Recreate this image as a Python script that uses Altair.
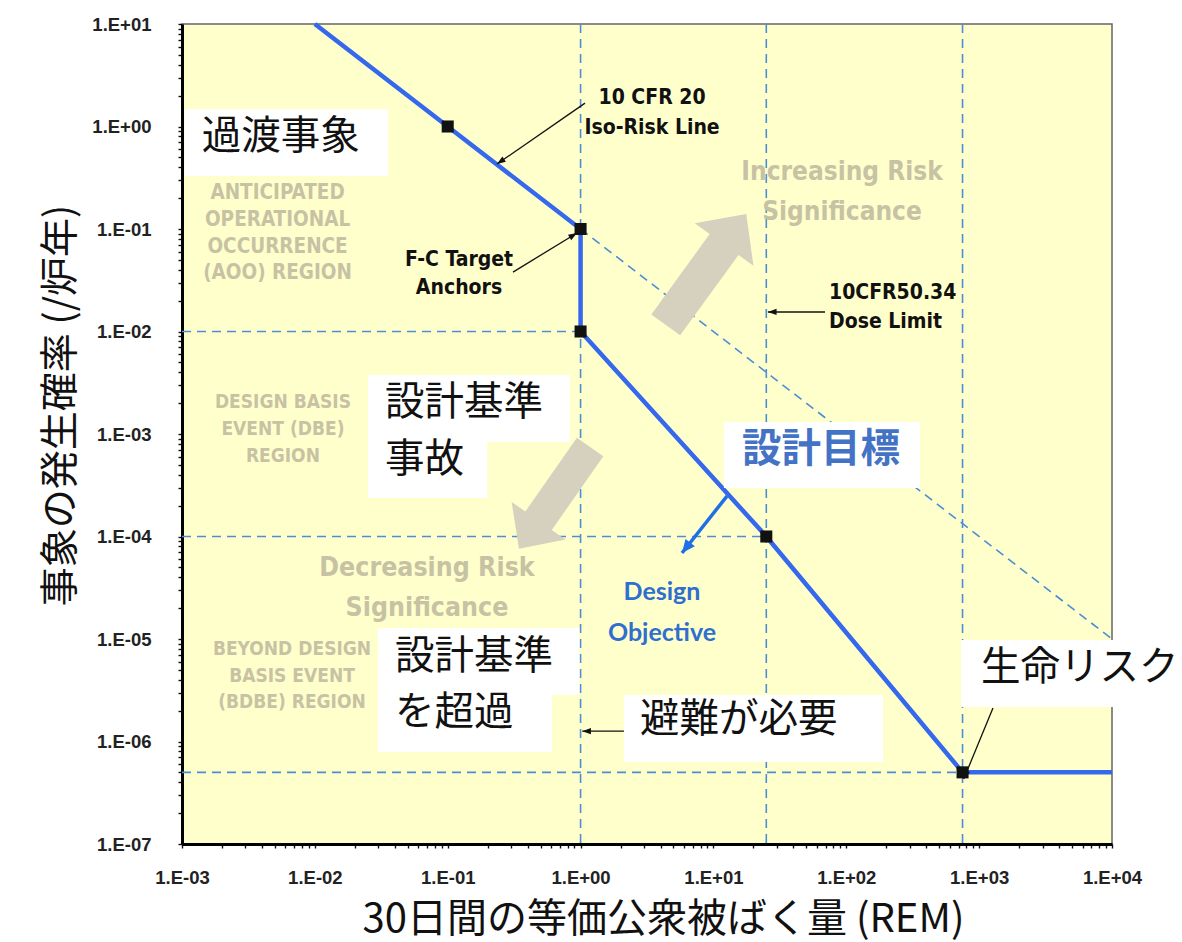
import json
import math

import altair as alt
import pandas as pd

# ---- axes -----------------------------------------------------------------
x_ticks = [1e-3, 1e-2, 1e-1, 1e0, 1e1, 1e2, 1e3, 1e4]
x_tick_labels = ["1.E-03", "1.E-02", "1.E-01", "1.E+00", "1.E+01", "1.E+02", "1.E+03", "1.E+04"]
y_ticks = [1e-7, 1e-6, 1e-5, 1e-4, 1e-3, 1e-2, 1e-1, 1e0, 1e1]
y_tick_labels = ["1.E-07", "1.E-06", "1.E-05", "1.E-04", "1.E-03", "1.E-02", "1.E-01", "1.E+00", "1.E+01"]

x_title = "30日間の等価公衆被ばく量 (REM)"
y_title = "事象の発生確率 (/炉年)"

# ---- frequency-consequence curve ---------------------------------------------
curve_dose = [0.01, 0.1, 1.0, 1.0, 25.0, 750.0, 1e4]
curve_freq = [10.0, 1.0, 0.1, 0.01, 1e-4, 5e-7, 5e-7]
anchor_dose = [0.1, 1.0, 1.0, 25.0, 750.0]
anchor_freq = [1.0, 0.1, 0.01, 1e-4, 5e-7]

# dashed guides
guide_v_dose = [1.0, 25.0, 750.0]
guide_h_freq = [0.01, 1e-4, 5e-7]
guide_h_end = [1.0, 25.0, 750.0]
iso_ext_dose = [1.0, 1e4]
iso_ext_freq = [0.1, 1e-5]

# ---- region captions (grey) ----------------------------------------------------
region_text = ["ANTICIPATED", "OPERATIONAL", "OCCURRENCE", "(AOO) REGION",
               "DESIGN BASIS", "EVENT (DBE)", "REGION",
               "BEYOND DESIGN", "BASIS EVENT", "(BDBE) REGION",
               "Decreasing Risk", "Significance",
               "Increasing Risk", "Significance"]
region_dose = [5.24e-3, 5.24e-3, 5.24e-3, 5.24e-3,
               5.75e-3, 5.75e-3, 5.75e-3,
               6.73e-3, 6.73e-3, 6.73e-3,
               0.0698, 0.0698,
               92.9, 92.9]
region_freq = [0.2245, 0.1225, 0.0667, 0.0372,
               2.05e-3, 1.12e-3, 6.1e-4,
               7.98e-6, 4.36e-6, 2.43e-6,
               4.93e-5, 2.0e-5,
               0.36, 0.1466]
region_size = [20.5, 20.5, 20.5, 20.5, 19, 19, 19, 19, 19, 19, 26.5, 26.5, 26, 26]

# big risk-direction arrows
risk_arrow_dose = [8.79, 0.637]
risk_arrow_freq = [0.0403, 2.38e-4]
risk_arrow_angle = [36, 215]
risk_arrow_size = [18769, 15376]

# ---- callouts ---------------------------------------------------------------------
note_c_text = ["10 CFR 20", "Iso-Risk Line", "F-C Target", "Anchors"]
note_c_dose = [3.45, 3.45, 0.1216, 0.1216]
note_c_freq = [1.90, 0.966, 0.0499, 0.0266]

note_l_text = ["10CFR50.34", "Dose Limit"]
note_l_dose = [74.1, 74.1]
note_l_freq = [0.0238, 0.0124]

obj_text = ["Design", "Objective"]
obj_dose = [4.1, 4.1]
obj_freq = [2.88e-5, 1.15e-5]

# white label boxes
box_dose = [1.05e-3, 0.0251, 0.0251, 0.0298, 0.0298, 12.0, 2.12, 730.0]
box_dose2 = [0.0356, 0.832, 0.198, 0.98, 0.61, 359.0, 189.0, 33600.0]
box_freq = [1.48, 3.77e-3, 8.36e-4, 1.28e-5, 2.84e-6, 1.31e-3, 2.84e-6, 9.77e-6]
box_freq2 = [0.329, 8.36e-4, 2.38e-4, 2.84e-6, 7.9e-7, 2.97e-4, 6.3e-7, 2.17e-6]

jp_text = ["過渡事象", "設計基準", "事故", "設計基準", "を超過", "避難が必要", "生命リスク"]
jp_dose = [1.41e-3, 0.0337, 0.0337, 0.0401, 0.0401, 2.80, 1032.0]
jp_freq = [0.79, 2.0e-3, 5.57e-4, 6.67e-6, 1.9e-6, 1.62e-6, 5.21e-6]

goal_text = ["設計目標"]
goal_dose = [16.4]
goal_freq = [6.98e-4]

# pointer lines: tail -> tip
ptr_dose = [1.08, 0.31, 69.2, 2.12, 1271.0]
ptr_freq = [1.69, 0.038, 0.0155, 1.26e-6, 2.12e-6]
ptr_dose2 = [0.235, 0.94, 25.7, 1.03, 765.0]
ptr_freq2 = [0.43, 0.0914, 0.0155, 1.26e-6, 4.3e-7]

goal_ptr_dose = [12.65]
goal_ptr_freq = [2.48e-4]
goal_ptr_dose2 = [5.8]
goal_ptr_freq2 = [6.9e-5]

# ---- layout / style -------------------------------------------------------------
W, H = 930, 820
PX_X = W / 7.0   # pixels per decade
PX_Y = H / 8.0

NARROW = "DejaVu Sans Condensed, Arial Narrow, sans-serif"
TICK_FONT = "Liberation Sans, Arial, sans-serif"
JP = "Noto Sans CJK JP"
YELLOW = "#FFFFCC"
CURVE_BLUE = "#3568EC"
GUIDE_BLUE = "#4C8ED6"
GREY = "#C8C2A4"

ARROW_PATH = "M0,-1 L0.53,-0.45 L0.26,-0.45 L0.26,1 L-0.26,1 L-0.26,-0.45 L-0.53,-0.45 Z"
HEAD_PATH = "M0,0 L0.36,1 L-0.36,1 Z"


def head_angle(x0, y0, x1, y1):
    dx = (math.log10(x1) - math.log10(x0)) * PX_X
    dy = -(math.log10(y1) - math.log10(y0)) * PX_Y
    return math.degrees(math.atan2(dx, -dy)) % 360


def minor(decades):
    return [m * d for d in decades[:-1] for m in range(1, 10)] + [decades[-1]]


def label_expr(labels, first_exp):
    e = "round(log(datum.value)/LN10)"
    return (f"abs(log(datum.value)/LN10 - {e}) < 0.001 ? "
            f"{json.dumps(labels)}[{e} + {-first_exp}] : ''")


xscale = alt.Scale(type="log", domain=[1e-3, 1e4], nice=False)
yscale = alt.Scale(type="log", domain=[1e-7, 1e1], nice=False)

axis_common = dict(
    domainColor="#000", domainWidth=3, tickColor="#111", tickWidth=1.4, tickSize=4,
    labelFont=TICK_FONT, labelFontWeight="bold", labelFontSize=18.5, labelColor="#222",
    labelOverlap=False, labelFlush=False, grid=False,
    titleFont=JP, titleFontWeight="normal", titleColor="#111",
)
xaxis = alt.Axis(values=minor(x_ticks), labelExpr=label_expr(x_tick_labels, -3),
                 labelPadding=20, title=x_title, titleX=481, titleY=75, titleFontSize=40,
                 titleBaseline="middle", titleAlign="center", **axis_common)
yaxis = alt.Axis(values=minor(y_ticks), labelExpr=label_expr(y_tick_labels, -7),
                 labelPadding=27, title=y_title, titleX=-122, titleY=381, titleAngle=270,
                 titleFontSize=39, titleBaseline="middle", titleAlign="center", **axis_common)


def X(field="dose"):
    return alt.X(f"{field}:Q", scale=xscale, axis=xaxis)


def Y(field="freq"):
    return alt.Y(f"{field}:Q", scale=yscale, axis=yaxis)


# ---- data frames ----------------------------------------------------------------
curve = pd.DataFrame({"dose": curve_dose, "freq": curve_freq, "idx": range(len(curve_dose))})
anchors = pd.DataFrame({"dose": anchor_dose, "freq": anchor_freq})
guide_v = pd.DataFrame({"dose": guide_v_dose})
guide_h = pd.DataFrame({"dose": [1e-3] * 3, "dose2": guide_h_end, "freq": guide_h_freq})
iso_ext = pd.DataFrame({"dose": iso_ext_dose, "freq": iso_ext_freq})
regions = pd.DataFrame({"dose": region_dose, "freq": region_freq, "t": region_text, "fs": region_size})
risk_arrows = pd.DataFrame({"dose": risk_arrow_dose, "freq": risk_arrow_freq,
                            "angle": risk_arrow_angle, "size": risk_arrow_size})
notes_c = pd.DataFrame({"dose": note_c_dose, "freq": note_c_freq, "t": note_c_text})
notes_l = pd.DataFrame({"dose": note_l_dose, "freq": note_l_freq, "t": note_l_text})
obj = pd.DataFrame({"dose": obj_dose, "freq": obj_freq, "t": obj_text})
boxes = pd.DataFrame({"dose": box_dose, "dose2": box_dose2, "freq": box_freq, "freq2": box_freq2})
jp = pd.DataFrame({"dose": jp_dose, "freq": jp_freq, "t": jp_text})
goal = pd.DataFrame({"dose": goal_dose, "freq": goal_freq, "t": goal_text})
ptr = pd.DataFrame({"dose": ptr_dose, "freq": ptr_freq, "dose2": ptr_dose2, "freq2": ptr_freq2})
ptr_head = pd.DataFrame({
    "dose": ptr_dose2, "freq": ptr_freq2,
    "angle": [head_angle(a, b, c, d) for a, b, c, d in zip(ptr_dose, ptr_freq, ptr_dose2, ptr_freq2)],
})
goal_ptr = pd.DataFrame({"dose": goal_ptr_dose, "freq": goal_ptr_freq,
                         "dose2": goal_ptr_dose2, "freq2": goal_ptr_freq2})
goal_head = pd.DataFrame({
    "dose": goal_ptr_dose2, "freq": goal_ptr_freq2,
    "angle": [head_angle(a, b, c, d) for a, b, c, d in
              zip(goal_ptr_dose, goal_ptr_freq, goal_ptr_dose2, goal_ptr_freq2)],
})

# ---- layers ---------------------------------------------------------------------
dash = dict(color=GUIDE_BLUE, strokeWidth=1.6, strokeDash=[9, 6])

v_lines = alt.Chart(guide_v).mark_rule(**dash).encode(x=X())
h_lines = alt.Chart(guide_h).mark_rule(**dash).encode(x=X(), x2="dose2:Q", y=Y())
iso_line = alt.Chart(iso_ext).mark_line(**dash).encode(x=X(), y=Y())

big_arrows = alt.Chart(risk_arrows).mark_point(
    shape=ARROW_PATH, filled=True, color="#D6D1BE", opacity=1, strokeWidth=0
).encode(x=X(), y=Y(), angle=alt.Angle("angle:Q", scale=None), size=alt.Size("size:Q", scale=None))

region_labels = alt.Chart(regions).mark_text(
    font=NARROW, fontWeight="bold", color=GREY, align="center", baseline="middle"
).encode(x=X(), y=Y(), text="t:N", size=alt.Size("fs:Q", scale=None))

curve_line = alt.Chart(curve).mark_line(color=CURVE_BLUE, strokeWidth=4.5).encode(
    x=X(), y=Y(), order="idx:Q")
anchor_pts = alt.Chart(anchors).mark_point(
    shape="square", filled=True, size=145, color="#111", opacity=1).encode(x=X(), y=Y())

white_boxes = alt.Chart(boxes).mark_rect(color="white").encode(
    x=X(), x2="dose2:Q", y=Y(), y2="freq2:Q")

jp_labels = alt.Chart(jp).mark_text(
    font=JP, fontSize=39.5, color="#111", align="left", baseline="middle").encode(x=X(), y=Y(), text="t:N")
goal_label = alt.Chart(goal).mark_text(
    font=JP, fontSize=39.5, fontWeight="bold", color="#4472C4", align="left", baseline="middle"
).encode(x=X(), y=Y(), text="t:N")

notes_center = alt.Chart(notes_c).mark_text(
    font=NARROW, fontSize=21, fontWeight="bold", color="#111", align="center", baseline="middle"
).encode(x=X(), y=Y(), text="t:N")
notes_left = alt.Chart(notes_l).mark_text(
    font=NARROW, fontSize=21, fontWeight="bold", color="#111", align="left", baseline="middle"
).encode(x=X(), y=Y(), text="t:N")
obj_labels = alt.Chart(obj).mark_text(
    font="Lato", fontSize=25, fontWeight="bold", color="#2E6FD0", align="center", baseline="middle"
).encode(x=X(), y=Y(), text="t:N")

ptr_lines = alt.Chart(ptr).mark_rule(color="#111", strokeWidth=1.3).encode(
    x=X(), y=Y(), x2="dose2:Q", y2="freq2:Q")
ptr_heads = alt.Chart(ptr_head).mark_point(
    shape=HEAD_PATH, filled=True, size=300, color="#111", opacity=1, strokeWidth=0
).encode(x=X(), y=Y(), angle=alt.Angle("angle:Q", scale=None))

goal_line = alt.Chart(goal_ptr).mark_rule(color="#1F6FE6", strokeWidth=3.5).encode(
    x=X(), y=Y(), x2="dose2:Q", y2="freq2:Q")
goal_heads = alt.Chart(goal_head).mark_point(
    shape="M0,0 L0.45,1 L-0.45,1 Z", filled=True, size=700, color="#1F6FE6", opacity=1, strokeWidth=0
).encode(x=X(), y=Y(), angle=alt.Angle("angle:Q", scale=None))

chart = alt.layer(
    v_lines, h_lines, iso_line, big_arrows, region_labels,
    curve_line, anchor_pts, white_boxes, jp_labels, goal_label,
    notes_center, notes_left, obj_labels, ptr_lines, ptr_heads, goal_line, goal_heads,
).properties(
    width=W, height=H,
    padding={"left": 182, "top": 24, "right": 70, "bottom": 98},
    autosize=alt.AutoSizeParams(type="none"),
    background="white",
).configure_view(fill=YELLOW, stroke="#666", strokeWidth=1.5)

chart.save("out.html", embed_options={"renderer": "svg", "actions": False})
